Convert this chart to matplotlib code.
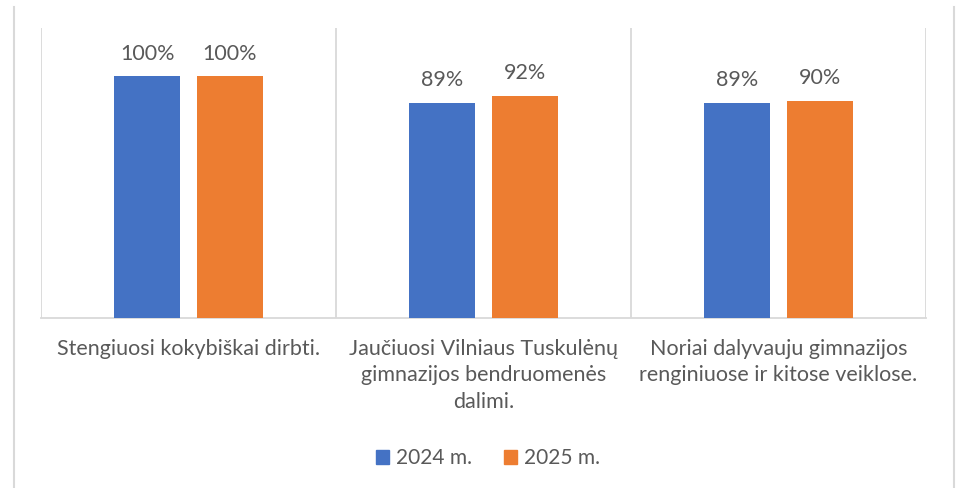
import numpy as np
import matplotlib.pyplot as plt
from matplotlib.lines import Line2D

# data
categories = ['Stengiuosi kokybiškai dirbti.',
              'Jaučiuosi Vilniaus Tuskulėnų\ngimnazijos bendruomenės\ndalimi.',
              'Noriai dalyvauju gimnazijos\nrenginiuose ir kitose veiklose.']
series_names = ['2024 m.', '2025 m.']
values_2024 = [100, 89, 89]
values_2025 = [100, 92, 90]
colors = ['#4472C4', '#ED7D31']

plt.rcParams['font.family'] = ['Lato', 'DejaVu Sans']
text_color = '#595959'
grid_color = '#D9D9D9'

fig = plt.figure(figsize=(9.63, 4.88), dpi=100)
W, H = 963, 488
ax = fig.add_axes([41 / W, 1 - 318 / H, (926 - 41) / W, (318 - 28) / H])

x = np.arange(len(categories))
width = 0.224
offset = 0.14
for vals, name, col, sgn in [(values_2024, series_names[0], colors[0], -1),
                             (values_2025, series_names[1], colors[1], 1)]:
    bars = ax.bar(x + sgn * offset, vals, width, color=col, label=name, zorder=3)
    for b, v in zip(bars, vals):
        ax.annotate(f'{v}%', (b.get_x() + b.get_width() / 2, v),
                    xytext=(0, 9), textcoords='offset points',
                    ha='center', va='bottom', fontsize=15.5, color=text_color)

ax.set_xlim(-0.5, len(categories) - 0.5)
ax.set_ylim(0, 120)
ax.set_yticks([])
ax.set_xticks(x)
ax.set_xticklabels(categories, fontsize=15.5, color=text_color, linespacing=1.4)
ax.tick_params(axis='x', length=0, pad=15)

# category separators
for sep in np.arange(-0.5, len(categories), 1.0):
    ax.axvline(sep, color=grid_color, lw=1.3, zorder=1)
for s in ['top', 'left', 'right']:
    ax.spines[s].set_visible(False)
ax.spines['bottom'].set_color(grid_color)
ax.spines['bottom'].set_linewidth(1.3)

handles = [plt.Rectangle((0, 0), 1, 1, color=c) for c in colors]
fig.legend(handles, series_names, loc='center', bbox_to_anchor=(488 / W, 1 - 458 / H),
           ncol=2, frameon=False, fontsize=15, handlelength=0.65, handleheight=0.65,
           handletextpad=0.35, columnspacing=1.5, labelcolor=text_color)

# outer chart border edges
fig.add_artist(Line2D([14 / W, 14 / W], [0, 1 - 7 / H], transform=fig.transFigure,
                      color=grid_color, lw=1.5))
fig.add_artist(Line2D([954 / W, 954 / W], [0, 1 - 7 / H], transform=fig.transFigure,
                      color=grid_color, lw=1.5))

fig.savefig('out.png', dpi=100)
